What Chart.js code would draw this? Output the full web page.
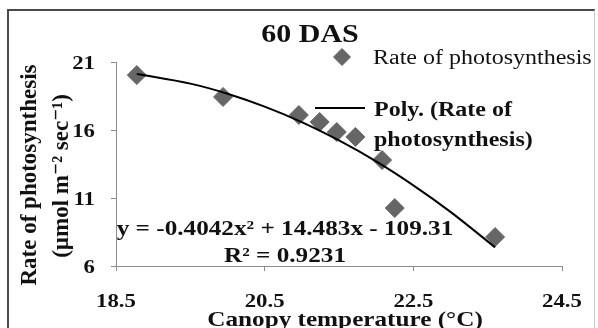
<!DOCTYPE html>
<html>
<head>
<meta charset="utf-8">
<script src="https://cdn.jsdelivr.net/npm/chart.js@4.4.1/dist/chart.umd.min.js"></script>
<style>
  html, body { margin: 0; padding: 0; background: #fff; overflow: hidden; }
  #wrap { position: relative; width: 598px; height: 328px; }
  #frame {
    position: absolute; left: 7px; top: 9px; width: 588px; height: 330px;
    border-left: 2px solid #4a4a4a; border-top: 2px solid #4a4a4a; border-right: 1px solid #c8c8c8;
    box-sizing: border-box;
  }
  canvas { position: absolute; left: 0; top: 0; }
</style>
</head>
<body>
<div id="wrap">
  <div id="frame"></div>
  <canvas id="chart" width="598" height="328"></canvas>
</div>
<script>
// --- Data ---
const chartTitle = "60 DAS";
const tempC = [18.78, 19.94, 20.96, 21.24, 21.47, 21.72, 22.08, 22.25, 23.6];
const rate = [20.04, 18.43, 17.10, 16.59, 15.85, 15.49, 13.79, 10.26, 8.13];
const trendX = [18.78, 19.5, 20.0, 20.5, 21.0, 21.5, 22.0, 22.5, 23.0, 23.6];
const trendY = [20.12, 19.41, 18.67, 17.72, 16.58, 15.23, 13.69, 11.93, 9.98, 7.37];
const xTicks = [18.5, 20.5, 22.5, 24.5];
const yTicks = [6, 11, 16, 21];
const xTitle = "Canopy temperature (°C)";
const yTitle = ["Rate of photosynthesis", "(µmol m⁻² sec⁻¹)"];
const legendPoints = "Rate of photosynthesis";
const legendTrend = ["Poly. (Rate of", "photosynthesis)"];
const equation = ["y = -0.4042x² + 14.483x - 109.31", "R² = 0.9231"];

const SERIF = '"Liberation Serif", "Times New Roman", "DejaVu Serif", serif';
const STRETCH = 1.2; // the reference text is a bit wide
const AXIS_GREY = "#8c8c8c";
const POINT_GREY = "#666666";

const drawText = (ctx, text, x, y, size, bold, align, opts = {}) => {
  ctx.save();
  ctx.translate(x, y);
  if (opts.rotate) ctx.rotate(-Math.PI / 2);
  else ctx.scale(STRETCH, 1);
  ctx.font = `${bold ? "bold " : ""}${size}px ${SERIF}`;
  ctx.textAlign = align;
  ctx.textBaseline = opts.baseline || "alphabetic";
  ctx.fillStyle = "#111";
  ctx.fillText(text, 0, 0);
  ctx.restore();
};

// --- Texts drawn on top of the chart ---
const textPlugin = {
  id: "texts",
  afterDraw(chart) {
    const { ctx, scales } = chart;

    drawText(ctx, chartTitle, 310, 42, 25, true, "center");

    xTicks.forEach((v) => {
      drawText(ctx, String(v), scales.x.getPixelForValue(v), 307, 19, true, "center");
    });
    yTicks.forEach((v) => {
      drawText(ctx, String(v), 95, scales.y.getPixelForValue(v) + 6.5, 19, true, "right");
    });

    drawText(ctx, xTitle, 345, 326, 21, true, "center");
    drawText(ctx, yTitle[0], 30, 175, 23, true, "center", { rotate: true, baseline: "middle" });
    drawText(ctx, yTitle[1], 62, 176, 23, true, "center", { rotate: true, baseline: "middle" });

    // legend
    ctx.save();
    ctx.fillStyle = POINT_GREY;
    ctx.strokeStyle = POINT_GREY;
    Chart.helpers.drawPoint(ctx, { pointStyle: "rectRot", radius: 8.5, borderWidth: 1 }, 342, 57);
    ctx.restore();
    drawText(ctx, legendPoints, 373, 64, 20, false, "left");

    ctx.save();
    ctx.strokeStyle = "#000";
    ctx.lineWidth = 2;
    ctx.beginPath();
    ctx.moveTo(315, 108);
    ctx.lineTo(365, 108);
    ctx.stroke();
    ctx.restore();
    drawText(ctx, legendTrend[0], 374, 116, 20, true, "left");
    drawText(ctx, legendTrend[1], 374, 146, 20, true, "left");

    // trendline equation
    drawText(ctx, equation[0], 285, 235, 21, true, "center");
    drawText(ctx, equation[1], 285, 262, 21, true, "center");
  },
};

const axis = (min, max, ticks, fit) => ({
  type: "linear",
  min,
  max,
  afterBuildTicks: (s) => { s.ticks = ticks.map((value) => ({ value })); },
  afterFit: fit,
  ticks: { display: false },
  grid: { drawOnChartArea: false, drawTicks: true, tickLength: 5, color: AXIS_GREY },
  border: { display: true, color: AXIS_GREY, width: 1 },
});

new Chart(document.getElementById("chart"), {
  type: "scatter",
  data: {
    datasets: [
      {
        label: "Poly. (Rate of photosynthesis)",
        data: trendX.map((x, i) => ({ x, y: trendY[i] })),
        showLine: true,
        borderColor: "#000",
        borderWidth: 2,
        pointRadius: 0,
        cubicInterpolationMode: "monotone",
        order: 0,
      },
      {
        label: "Rate of photosynthesis",
        data: tempC.map((x, i) => ({ x, y: rate[i] })),
        pointStyle: "rectRot",
        pointRadius: 9.5,
        backgroundColor: POINT_GREY,
        borderColor: POINT_GREY,
        borderWidth: 1,
        order: 1,
      },
    ],
  },
  options: {
    responsive: false,
    animation: false,
    devicePixelRatio: 1,
    layout: { padding: { top: 62, right: 36, left: 0, bottom: 0 } },
    plugins: { legend: { display: false }, tooltip: { enabled: false } },
    scales: {
      x: axis(18.5, 24.5, xTicks, (s) => { s.height = 62; }),
      y: axis(6, 21, yTicks, (s) => { s.width = 116; }),
    },
  },
  plugins: [textPlugin],
});
</script>
</body>
</html>
